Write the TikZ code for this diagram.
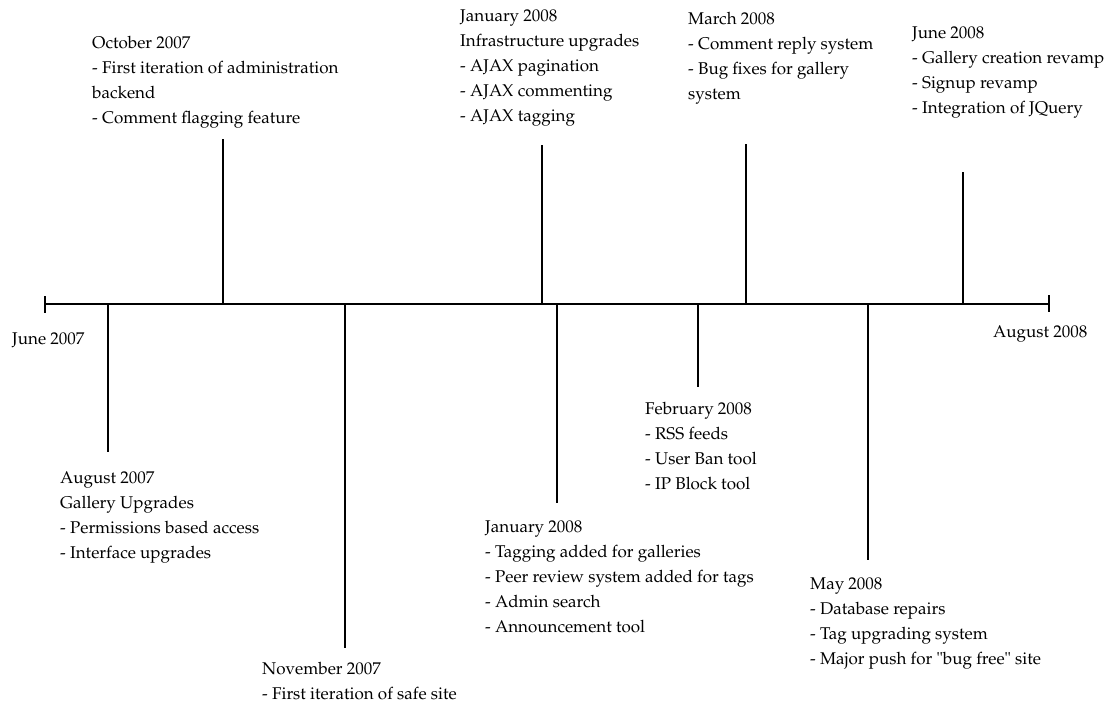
\documentclass[tikz,border=0pt]{standalone}
\usepackage[T1]{fontenc}
\usepackage{mathpazo}
\newcommand\tlblock[1]{\vtop{\baselineskip=25pt\lineskiplimit=-20pt\lineskip=0pt\halign{##\hfil\cr#1\crcr}}}
\tikzset{
  axisline/.style={line width=2.2pt},
  endtick/.style={line width=1.8pt},
  stem/.style={line width=1.6pt},
  lbl/.style={anchor=base west, inner sep=0pt, font=\fontsize{17}{25}\selectfont},
}
\begin{document}
\begin{tikzpicture}[x=1pt,y=-1pt]
\useasboundingbox (0,0) rectangle (1114,705);
% axis
\coordinate (L) at (45,304);
\coordinate (R) at (1049,304);
\coordinate (Lt) at (45,296);
\coordinate (Lb) at (45,313);
\coordinate (Rt) at (1049,295);
\coordinate (Rb) at (1049,312);
\draw[axisline] (L) -- (R);
\draw[endtick] (Lt) -- (Lb);
\draw[endtick] (Rt) -- (Rb);
\node[lbl] (start) at (12,344) {June 2007};
\node[lbl] (end) at (993,337) {August 2008};

% stems above
\coordinate (octA) at (223,304); \coordinate (octB) at (223,139);
\coordinate (januA) at (542,304); \coordinate (januB) at (542,145);
\coordinate (marA) at (746,304); \coordinate (marB) at (746,144);
\coordinate (junA) at (963,304); \coordinate (junB) at (963,172);
% stems below
\coordinate (augA) at (108,304); \coordinate (augB) at (108,452);
\coordinate (novA) at (345,304); \coordinate (novB) at (345,648);
\coordinate (jandA) at (557,304); \coordinate (jandB) at (557,503);
\coordinate (febA) at (698,304); \coordinate (febB) at (698,387);
\coordinate (mayA) at (868,304); \coordinate (mayB) at (868,560);

\foreach \s in {oct,janu,mar,jun,aug,nov,jand,feb,may}
  \draw[stem] (\s A) -- (\s B);

% labels above
\node[lbl] (octT) at (92,48) {\tlblock{October 2007\cr
- First iteration of administration\cr
backend\cr
- Comment flagging feature}};
\node[lbl] (januT) at (460,21) {\tlblock{January 2008\cr
Infrastructure upgrades\cr
- AJAX pagination\cr
- AJAX commenting\cr
- AJAX tagging}};
\node[lbl] (marT) at (688,24) {\tlblock{March 2008\cr
- Comment reply system\cr
- Bug fixes for gallery\cr
system}};
\node[lbl] (junT) at (912,38) {\tlblock{June 2008\cr
- Gallery creation revamp\cr
- Signup revamp\cr
- Integration of JQuery}};

% labels below
\node[lbl] (augT) at (60,483) {\tlblock{August 2007\cr
Gallery Upgrades\cr
- Permissions based access\cr
- Interface upgrades}};
\node[lbl] (novT) at (262,674) {\tlblock{November 2007\cr
- First iteration of safe site}};
\node[lbl] (jandT) at (485,532) {\tlblock{January 2008\cr
- Tagging added for galleries\cr
- Peer review system added for tags\cr
- Admin search\cr
- Announcement tool}};
\node[lbl] (febT) at (645,414) {\tlblock{February 2008\cr
- RSS feeds\cr
- User Ban tool\cr
- IP Block tool}};
\node[lbl] (mayT) at (810,589) {\tlblock{May 2008\cr
- Database repairs\cr
- Tag upgrading system\cr
- Major push for \textquotedbl bug free\textquotedbl\ site}};
\end{tikzpicture}
\end{document}
